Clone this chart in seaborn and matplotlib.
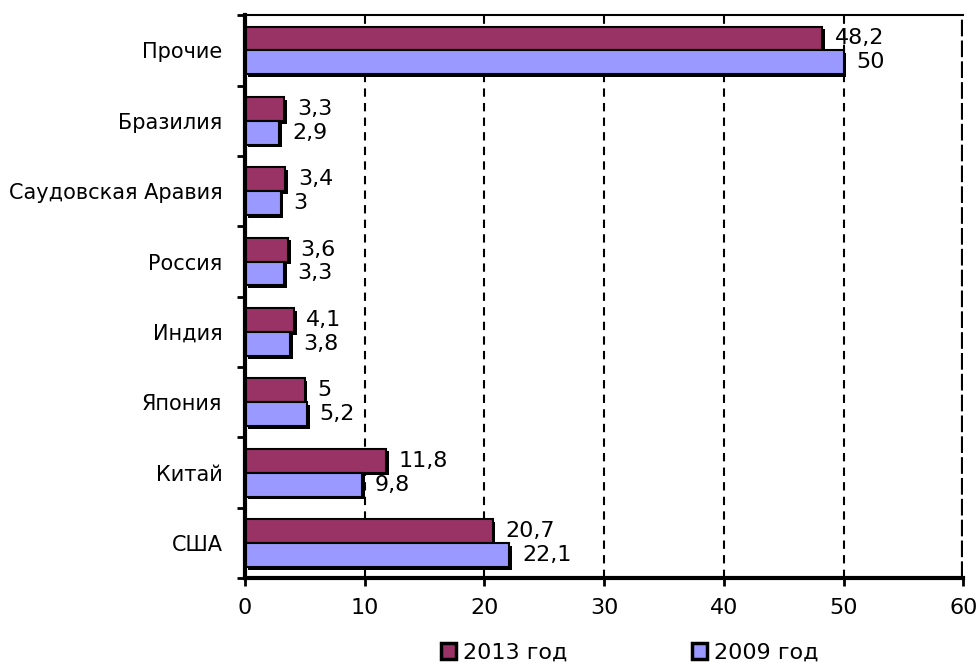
import pandas as pd
import matplotlib
matplotlib.use("Agg")
import matplotlib.pyplot as plt
import matplotlib.patheffects as pe
from matplotlib.patches import Patch
import seaborn as sns

# data
countries = ['Прочие', 'Бразилия', 'Саудовская Аравия', 'Россия', 'Индия', 'Япония', 'Китай', 'США']
vals_2013 = [48.2, 3.3, 3.4, 3.6, 4.1, 5.0, 11.8, 20.7]
vals_2009 = [50.0, 2.9, 3.0, 3.3, 3.8, 5.2, 9.8, 22.1]
series = ['2013 год', '2009 год']
colors = ['#993366', '#9999FF']

df = pd.DataFrame({
    'country': countries * 2,
    'value': vals_2013 + vals_2009,
    'year': [series[0]] * len(countries) + [series[1]] * len(countries),
})

sns.set_style('white')
plt.rcParams['font.family'] = ['DejaVu Sans']
plt.rcParams['text.color'] = 'black'
plt.rcParams['xtick.color'] = 'black'
plt.rcParams['ytick.color'] = 'black'

fig = plt.figure(figsize=(9.79, 6.63), dpi=100)
ax = fig.add_axes([0.250, 0.128, 0.734, 0.849])

sns.barplot(data=df, y='country', x='value', hue='year', order=countries,
            hue_order=series, palette=colors, saturation=1, orient='h', width=0.68,
            edgecolor='black', linewidth=1.5, legend=False, ax=ax)

for p in ax.patches:
    p.set_path_effects([pe.SimplePatchShadow(offset=(2, -2), shadow_rgbFace='black', alpha=1.0),
                        pe.Normal()])

# value labels with comma decimal
for cont, vals in zip(ax.containers, [vals_2013, vals_2009]):
    labels = [('%g' % v).replace('.', ',') for v in vals]
    ax.bar_label(cont, labels=labels, padding=9, fontsize=16, color='black')

ax.set_xlim(0, 60)
ax.set_ylim(len(countries) - 0.5, -0.5)
ax.set_xticks(range(0, 61, 10))
ax.set_xlabel('')
ax.set_ylabel('')
ax.tick_params(axis='x', labelsize=16, length=6, width=2, direction='out', pad=8, colors='black')
ax.tick_params(axis='y', labelsize=15, length=0, pad=16, colors='black')

# minor ticks on category boundaries
ax.set_yticks([i + 0.5 for i in range(-1, len(countries))], minor=True)
ax.tick_params(axis='y', which='minor', length=6, width=2, direction='out', left=True)
ax.tick_params(axis='x', bottom=True)

for x in range(10, 60, 10):
    ax.axvline(x, color='black', linestyle=(0, (4, 3)), linewidth=1.5, zorder=0)
ax.axvline(60, color='black', linestyle=(0, (4, 1)), linewidth=3, zorder=0)

for side in ['left', 'bottom']:
    ax.spines[side].set_linewidth(3)
    ax.spines[side].set_color('black')
ax.spines['top'].set_linewidth(1.5)
ax.spines['top'].set_color('black')
ax.spines['right'].set_visible(False)

handles = [Patch(facecolor=c, edgecolor='black', linewidth=2.5) for c in colors]
fig.legend(handles, series, loc='lower center', bbox_to_anchor=(0.643, -0.03), ncol=2,
           frameon=False, fontsize=16, handlelength=0.7, handleheight=0.7,
           handletextpad=0.3, columnspacing=5.6)

fig.savefig('out.png', dpi=100)
